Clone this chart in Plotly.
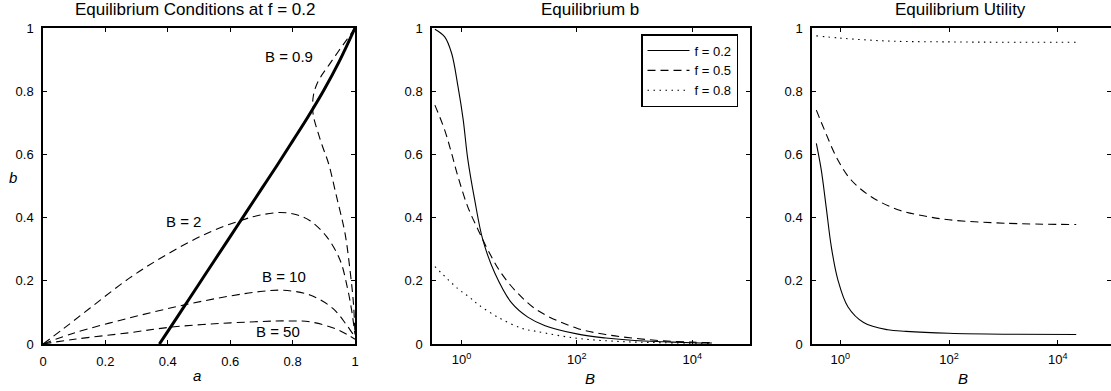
import plotly.graph_objects as go

# ---------------- Panel 1: Equilibrium conditions at f = 0.2 ----------------
a_eq = [0.373, 0.40, 0.45, 0.50, 0.55, 0.60, 0.65, 0.70, 0.75, 0.80, 0.85, 0.90, 0.95, 1.00]
b_eq = [0.0, 0.04, 0.115, 0.19, 0.265, 0.34, 0.415, 0.49, 0.565, 0.642, 0.72, 0.803, 0.895, 1.00]

a_B09 = [1.0, 0.975, 0.946, 0.918, 0.893, 0.876, 0.867, 0.864, 0.867, 0.879, 0.896, 0.915, 0.941, 0.968, 0.984, 0.995, 1.0]
b_B09 = [1.0, 0.965, 0.925, 0.885, 0.85, 0.818, 0.788, 0.755, 0.72, 0.677, 0.625, 0.572, 0.466, 0.35, 0.234, 0.129, 0.03]

a_B2 = [0, 0.065, 0.15, 0.279, 0.40, 0.525, 0.637, 0.696, 0.76, 0.81, 0.856, 0.909, 0.952, 0.975, 0.989, 1.0]
b_B2 = [0, 0.048, 0.113, 0.21, 0.285, 0.35, 0.392, 0.408, 0.416, 0.41, 0.39, 0.34, 0.266, 0.181, 0.108, 0.03]

a_B10 = [0, 0.10, 0.279, 0.45, 0.60, 0.696, 0.77, 0.856, 0.93, 0.973, 0.995, 1.0]
b_B10 = [0, 0.035, 0.083, 0.123, 0.152, 0.166, 0.17, 0.155, 0.112, 0.06, 0.03, 0.025]

a_B50 = [0, 0.10, 0.279, 0.407, 0.55, 0.696, 0.78, 0.856, 0.941, 0.984, 1.0]
b_B50 = [0, 0.015, 0.036, 0.053, 0.064, 0.071, 0.073, 0.07, 0.047, 0.025, 0.015]

curve_labels = ["B = 0.9", "B = 2", "B = 10", "B = 50"]
label_a = [0.79, 0.449, 0.771, 0.752]
label_b = [0.91, 0.389, 0.215, 0.041]

# ---------------- Panel 2: Equilibrium b vs B ----------------
B_b02 = [0.347, 0.513, 0.676, 0.871, 1.072, 1.288, 1.698, 2.344, 3.802, 7.413, 14.13, 28.18, 100, 316.2, 1000, 3162, 10000, 21878]
b_f02 = [0.996, 0.972, 0.92, 0.815, 0.71, 0.585, 0.456, 0.33, 0.224, 0.13, 0.085, 0.058, 0.032, 0.019, 0.011, 0.007, 0.004, 0.003]

B_b05 = [0.347, 0.513, 0.676, 0.871, 1.288, 1.950, 2.884, 4.898, 9.55, 21.38, 100, 316.2, 1000, 3162, 10000, 21878]
b_f05 = [0.756, 0.677, 0.603, 0.53, 0.434, 0.361, 0.297, 0.224, 0.16, 0.105, 0.05, 0.03, 0.018, 0.01, 0.006, 0.004]

B_b08 = [0.347, 0.871, 1.380, 1.950, 4.266, 10.96, 19.95, 100, 549.5, 3162, 21878]
b_f08 = [0.245, 0.175, 0.148, 0.125, 0.085, 0.05, 0.04, 0.018, 0.008, 0.004, 0.002]

# ---------------- Panel 3: Equilibrium utility vs B ----------------
B_u02 = [0.363, 0.447, 0.550, 0.684, 0.904, 1.380, 2.69, 7.50, 16.2, 100, 1000, 21878]
u_f02 = [0.635, 0.551, 0.434, 0.308, 0.203, 0.118, 0.068, 0.045, 0.04, 0.034, 0.031, 0.03]

B_u05 = [0.363, 0.513, 0.904, 1.585, 3.715, 11.48, 35.5, 100, 1122, 21878]
u_f05 = [0.74, 0.677, 0.582, 0.519, 0.466, 0.425, 0.405, 0.393, 0.382, 0.378]

B_u08 = [0.363, 1.0, 3.162, 10, 100, 1000, 21878]
u_f08 = [0.975, 0.968, 0.962, 0.958, 0.956, 0.955, 0.955]

series_names = ["f = 0.2", "f = 0.5", "f = 0.8"]
panel_titles = ["Equilibrium Conditions at f = 0.2", "Equilibrium b", "Equilibrium Utility"]
log_tickvals = [1, 100, 10000]
log_ticktext = ["10<sup>0</sup>", "10<sup>2</sup>", "10<sup>4</sup>"]
lin_ticks = [0, 0.2, 0.4, 0.6, 0.8, 1]

FONT = "Liberation Sans, Arial, Helvetica, sans-serif"
W, H = 1111, 391
DASH = "8px,5px"
DOT = "1.5px,4.5px"

fig = go.Figure()

def px_x(p):
    return p / W

def px_y(p):
    return 1 - p / H

# panel 1 traces
fig.add_trace(go.Scatter(x=a_eq, y=b_eq, mode="lines", line_shape="spline",
                         line=dict(color="black", width=3),
                         showlegend=False, xaxis="x", yaxis="y"))
for ax_, bx_ in [(a_B09, b_B09), (a_B2, b_B2), (a_B10, b_B10), (a_B50, b_B50)]:
    fig.add_trace(go.Scatter(x=ax_, y=bx_, mode="lines", line_shape="spline",
                             line=dict(color="black", width=1.1, dash=DASH),
                             showlegend=False, xaxis="x", yaxis="y"))

# panel 2 traces
for xs, ys, dsh, nm in [(B_b02, b_f02, "solid", series_names[0]),
                        (B_b05, b_f05, DASH, series_names[1]),
                        (B_b08, b_f08, DOT, series_names[2])]:
    fig.add_trace(go.Scatter(x=xs, y=ys, mode="lines", line_shape="spline", name=nm,
                             line=dict(color="black", width=1.1, dash=dsh),
                             showlegend=True, xaxis="x2", yaxis="y2"))

# panel 3 traces
for xs, ys, dsh in [(B_u02, u_f02, "solid"), (B_u05, u_f05, DASH), (B_u08, u_f08, DOT)]:
    fig.add_trace(go.Scatter(x=xs, y=ys, mode="lines", line_shape="spline",
                             line=dict(color="black", width=1.1, dash=dsh),
                             showlegend=False, xaxis="x3", yaxis="y3"))

common = dict(showgrid=False, zeroline=False, showline=True, linecolor="black", linewidth=1.5,
              mirror="ticks", ticks="inside", ticklen=4, tickwidth=1, tickcolor="black",
              tickfont=dict(family=FONT, size=13, color="black"))

ydom = [px_y(344), px_y(28)]
fig.update_layout(
    width=W, height=H, margin=dict(l=0, r=0, t=0, b=0, autoexpand=False),
    paper_bgcolor="white", plot_bgcolor="white",
    font=dict(family=FONT, color="black"),
    xaxis=dict(domain=[px_x(43), px_x(355)], range=[0, 1], tickvals=lin_ticks,
               ticklabelstandoff=5, anchor="y", **common),
    yaxis=dict(domain=ydom, range=[0, 1], tickvals=lin_ticks, ticklabelstandoff=5, anchor="x", **common),
    xaxis2=dict(domain=[px_x(432), px_x(750)], type="log", range=[-0.51, 5.0],
                tickvals=log_tickvals, ticktext=log_ticktext, ticklabelstandoff=3, anchor="y2", **common),
    yaxis2=dict(domain=ydom, range=[0, 1], tickvals=lin_ticks, ticklabelstandoff=5, anchor="x2", **common),
    xaxis3=dict(domain=[px_x(812), 1.0], type="log", range=[-0.52, 4.98],
                tickvals=log_tickvals, ticktext=log_ticktext, ticklabelstandoff=3, anchor="y3", **common),
    yaxis3=dict(domain=ydom, range=[0, 1], tickvals=lin_ticks, ticklabelstandoff=5, anchor="x3", **common),
    legend=dict(x=px_x(738), y=px_y(34), xanchor="right", yanchor="top",
                bgcolor="white", bordercolor="black", borderwidth=1.5,
                font=dict(family=FONT, size=13, color="black"),
                tracegroupgap=0, itemwidth=42),
)

annotations = []
for txt, xa, yb in zip(curve_labels, label_a, label_b):
    annotations.append(dict(text=txt, x=xa, y=yb, xref="x", yref="y", showarrow=False,
                            font=dict(family=FONT, size=15, color="black")))
for txt, cx in zip(panel_titles, [195, 590, 960]):
    annotations.append(dict(text=txt, x=px_x(cx), y=px_y(10), xref="paper", yref="paper",
                            showarrow=False, xanchor="center", yanchor="middle",
                            font=dict(family=FONT, size=17, color="black")))
for txt, cx, cy in [("<i>a</i>", 197, 375), ("<i>B</i>", 590, 378), ("<i>B</i>", 963, 378), ("<i>b</i>", 13, 177)]:
    annotations.append(dict(text=txt, x=px_x(cx), y=px_y(cy), xref="paper", yref="paper",
                            showarrow=False, xanchor="center", yanchor="middle",
                            font=dict(family=FONT, size=15, color="black")))
fig.update_layout(annotations=annotations)

fig.write_html("out.html")
